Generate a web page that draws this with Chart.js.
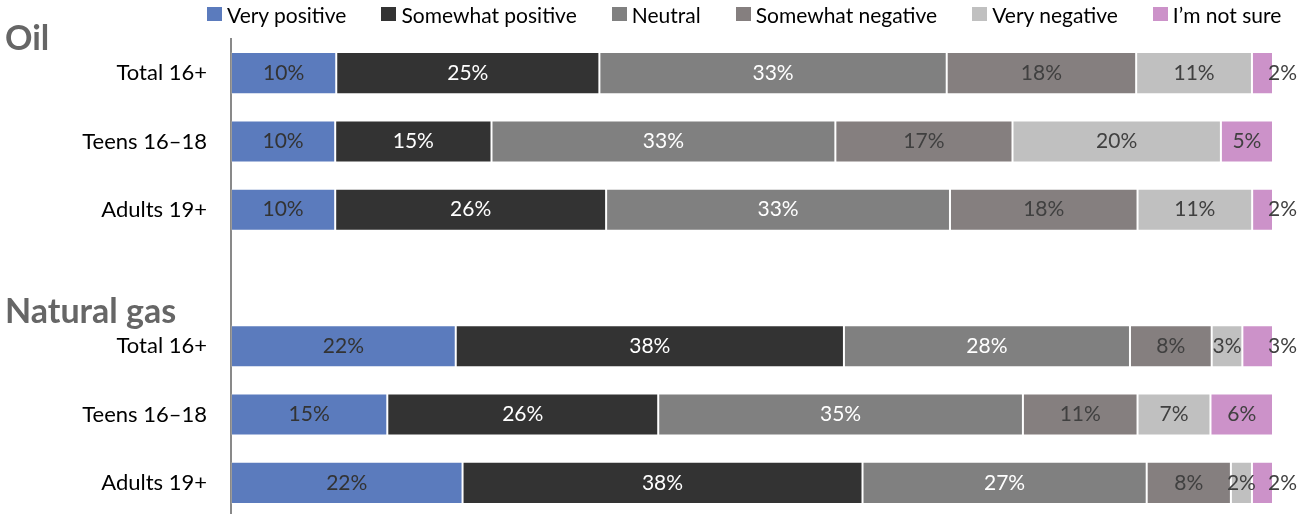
<!DOCTYPE html>
<html>
<head>
<meta charset="utf-8">
<script src="https://cdn.jsdelivr.net/npm/chart.js@4/dist/chart.umd.min.js"></script>
<style>
  html, body { margin: 0; padding: 0; background: #fff; overflow: hidden; }
  #wrap { position: relative; width: 1306px; height: 517px; }
  #legend {
    position: absolute; top: 0; left: 207px; height: 28px;
    display: flex; align-items: center;
    font-family: Lato, sans-serif; font-size: 21px; color: #000; white-space: nowrap;
  }
  #legend .item { display: flex; align-items: center; margin-right: 35px; }
  #legend .box { width: 15px; height: 14px; margin-right: 5px; }
</style>
</head>
<body>
<div id="wrap">
  <canvas id="sentimentChart" width="1306" height="517"></canvas>
  <div id="legend"></div>
</div>
<script>
const groups = ["Oil", "Natural gas"];
const rows = ["Total 16+", "Teens 16–18", "Adults 19+"];

const seriesNames = ["Very positive", "Somewhat positive", "Neutral", "Somewhat negative", "Very negative", "I’m not sure"];
const seriesColors = ["#5b7bbd", "#333333", "#808080", "#857f7f", "#c0c0c0", "#cc92c9"];
const labelColors = ["#333333", "#ffffff", "#ffffff", "#404040", "#404040", "#404040"];

// one entry per row: Oil (3 rows), blank spacer, Natural gas (3 rows)
const veryPositive     = [10, 10, 10, null, 22, 15, 22];
const somewhatPositive = [25, 15, 26, null, 38, 26, 38];
const neutral          = [33, 33, 33, null, 28, 35, 27];
const somewhatNegative = [18, 17, 18, null, 8, 11, 8];
const veryNegative     = [11, 20, 11, null, 3, 7, 2];
const notSure          = [2, 5, 2, null, 3, 6, 2];

const seriesValues = [veryPositive, somewhatPositive, neutral, somewhatNegative, veryNegative, notSure];

// category list with an empty spacer row between the groups
const categories = [];
groups.forEach((g, i) => {
  if (i > 0) categories.push("");
  rows.forEach(r => categories.push(r));
});

// 100% stacked: each row scaled by its own total
const rowTotals = categories.map((_, i) =>
  seriesValues.reduce((s, arr) => s + (arr[i] || 0), 0));

const datasets = seriesValues.map((vals, k) => ({
  label: seriesNames[k],
  data: vals.map((v, i) => (v == null ? null : (v / rowTotals[i]) * 100)),
  raw: vals,
  backgroundColor: seriesColors[k],
  borderColor: "rgba(255,255,255,0.15)",
  borderWidth: 1,
  borderSkipped: false,
  categoryPercentage: 0.616,
  barPercentage: 1,
}));

// html legend
const legendEl = document.getElementById("legend");
seriesNames.forEach((name, k) => {
  const item = document.createElement("div");
  item.className = "item";
  const box = document.createElement("span");
  box.className = "box";
  box.style.background = seriesColors[k];
  const txt = document.createElement("span");
  txt.textContent = name;
  item.appendChild(box);
  item.appendChild(txt);
  legendEl.appendChild(item);
});

const valueLabels = {
  id: "valueLabels",
  afterDatasetsDraw(chart) {
    const ctx = chart.ctx;
    const last = chart.data.datasets.length - 1;
    ctx.save();
    ctx.font = "21px Lato";
    ctx.textBaseline = "middle";
    chart.data.datasets.forEach((ds, k) => {
      const meta = chart.getDatasetMeta(k);
      meta.data.forEach((bar, i) => {
        const v = ds.raw[i];
        if (v == null) return;
        const text = v + "%";
        const w = ctx.measureText(text).width;
        const segW = bar.x - bar.base;
        ctx.fillStyle = labelColors[k];
        if (k === last && segW < w + 6) {
          // too narrow: push the label past the end of the bar
          ctx.textAlign = "left";
          ctx.fillText(text, bar.x - 5, bar.y);
        } else {
          ctx.textAlign = "center";
          ctx.fillText(text, (bar.x + bar.base) / 2, bar.y);
        }
      });
    });
    ctx.restore();
  },
};

const groupTitles = {
  id: "groupTitles",
  afterDraw(chart) {
    const y = chart.scales.y;
    const step = y.getPixelForValue(1) - y.getPixelForValue(0);
    const ctx = chart.ctx;
    ctx.save();
    ctx.font = "bold 34px Lato";
    ctx.fillStyle = "#666666";
    ctx.textAlign = "left";
    ctx.textBaseline = "middle";
    groups.forEach((g, i) => {
      const first = i * (rows.length + 1);
      ctx.fillText(g, 5, y.getPixelForValue(first) - step / 2);
    });
    ctx.restore();
  },
};

new Chart(document.getElementById("sentimentChart"), {
  type: "bar",
  data: { labels: categories, datasets },
  options: {
    indexAxis: "y",
    responsive: false,
    animation: false,
    layout: { padding: { top: 39, right: 33, bottom: 0, left: 0 } },
    plugins: { legend: { display: false }, tooltip: { enabled: false } },
    scales: {
      x: { display: false, stacked: true, min: 0, max: 100 },
      y: {
        stacked: true,
        grid: { display: false, drawTicks: false },
        border: { display: true, color: "#898989", width: 2 },
        ticks: { color: "#000", font: { family: "Lato", size: 22 }, padding: 24, autoSkip: false },
        afterFit(scale) {
          scale.width = 231;
          scale.paddingTop = 0;
          scale.paddingBottom = 0;
        },
      },
    },
  },
  plugins: [valueLabels, groupTitles],
});
</script>
</body>
</html>
